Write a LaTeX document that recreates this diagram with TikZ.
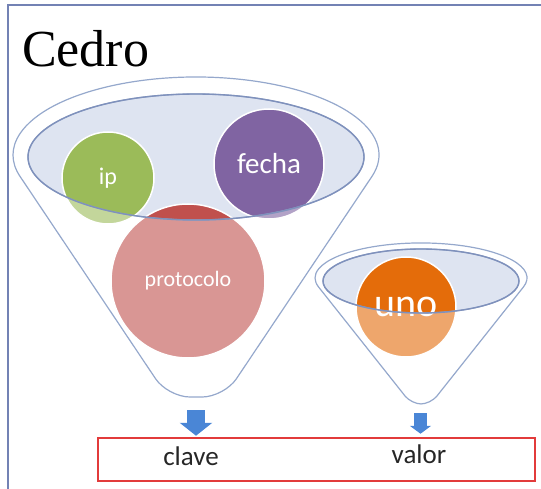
\documentclass[tikz,border=0pt]{standalone}
\usepackage{fontspec}
\setmainfont{Carlito}
\newfontfamily\titlefont{Liberation Serif}
\usetikzlibrary{arrows.meta}

\definecolor{frameblue}{HTML}{7382B4}
\definecolor{funnelline}{HTML}{95A8CC}
\definecolor{rimline}{HTML}{7F91BC}
\definecolor{rimfill}{HTML}{DEE4F1}
\definecolor{ipgreen}{HTML}{9BBB59}
\definecolor{fechapurple}{HTML}{8064A2}
\definecolor{protored}{HTML}{C0504D}
\definecolor{unoorange}{HTML}{E46C0A}
\definecolor{arrowblue}{HTML}{4A86D6}
\definecolor{boxred}{HTML}{E23B3B}

\begin{document}
\begin{tikzpicture}[x=1pt,y=-1pt,
  funnel/.style={draw=funnelline, line width=1.2pt, fill=white, fill opacity=0.4, even odd rule},
  rim/.style={draw=rimline, line width=1.4pt},
  ball/.style={circle, draw=white, line width=1.5pt, inner sep=0pt},
  lbl/.style={font=\fontsize{#1}{#1}\selectfont},
  blockarrow/.style={draw=arrowblue, line width=#1}]
  \useasboundingbox (0,0) rectangle (541,489);
  \draw[frameblue, line width=2.5pt] (541,5) -- (8,5) -- (8,489);

  \node[anchor=base west, inner sep=0pt, font=\titlefont\fontsize{52}{52}\selectfont] (title) at (22,67) {Cedro};

  % tops of the funnels
  \fill[rimfill] (196,157) ellipse[x radius=168, y radius=63];
  \fill[rimfill] (421,281) ellipse[x radius=98, y radius=32];

  \node[ball, fill=ipgreen, minimum size=92pt, text=white, lbl=24] (ip) at (108,178) {ip};
  \node[ball, fill=fechapurple, minimum size=110pt, text=white, lbl=29] (fecha) at (269,164) {fecha};
  \node[ball, fill=protored, minimum size=154pt, text=white, lbl=22] (protocolo) at (188,281) {protocolo};
  \node[ball, fill=unoorange, minimum size=100pt, text=white, lbl=40] (uno) at (406,307) {uno};

  % funnel bodies
  \path[funnel] (20.1,176.5) [rounded corners=22pt] -- (167.8,397) -- (224.2,397) [sharp corners] -- (371.9,176.5)
    arc[start angle=16, end angle=-196, x radius=183, y radius=78] -- cycle
    (196,157) ellipse[x radius=168, y radius=63];
  \path[funnel] (318.5,286.9) [rounded corners=10pt] -- (411.4,404) -- (430.6,404) [sharp corners] -- (523.5,286.9)
    arc[start angle=14.8, end angle=-194.8, x radius=106, y radius=35] -- cycle
    (421,281) ellipse[x radius=98, y radius=32];
  \draw[rim] (196,157) ellipse[x radius=168, y radius=63];
  \draw[rim] (421,281) ellipse[x radius=98, y radius=32];

  \node[draw=boxred, line width=2.5pt, minimum width=437pt, minimum height=43pt, inner sep=0pt] (kvbox) at (316.5,459.5) {};
  \node[anchor=base, lbl=27, text=black!85] (clave) at (191,465) {clave};
  \node[anchor=base, lbl=27, text=black!85] (valor) at (419,463) {valor};

  \coordinate (bigout) at (196,410);
  \coordinate (smallout) at (420.5,413);
  \draw[blockarrow=18pt, -{Triangle[width=32pt, length=13pt]}, shorten >=1pt] (bigout) -- (bigout |- kvbox.north);
  \draw[blockarrow=13pt, -{Triangle[width=21pt, length=8pt]}, shorten >=3pt] (smallout) -- (smallout |- kvbox.north);
\end{tikzpicture}
\end{document}
